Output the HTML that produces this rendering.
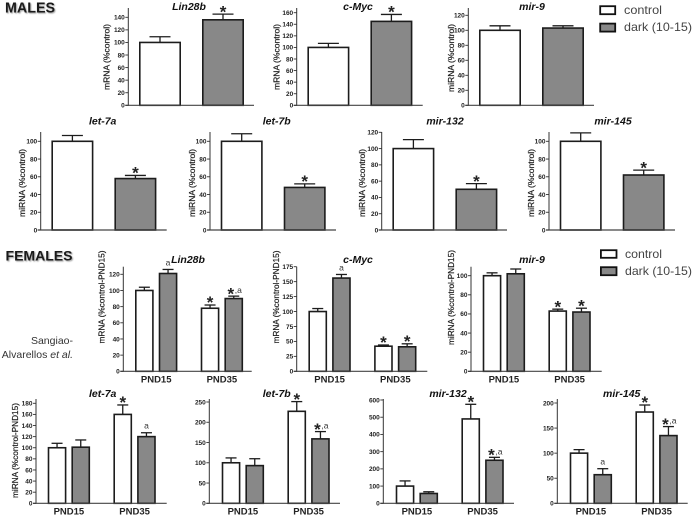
<!DOCTYPE html>
<html lang="en">
<head>
<meta charset="utf-8">
<title>mRNA and miRNA expression in males and females</title>
<style>
html,body{margin:0;padding:0;background:#fff;width:693px;height:516px;overflow:hidden}
svg{display:block;filter:blur(0.35px);font-family:"Liberation Sans",sans-serif}
.head{font-weight:700;fill:#1a1a1a;text-shadow:1px 1px 1.5px #999}
.title{font-weight:700;font-style:italic;font-size:10.5px;fill:#111;text-anchor:middle}
.tick{font-size:6.5px;font-weight:700;fill:#222;text-anchor:end}
.ylab{font-size:8px;fill:#222;text-anchor:middle;stroke:#222;stroke-width:.22px}
.grp{font-size:9.5px;font-weight:700;fill:#222;text-anchor:middle}
.star{font-size:17px;font-weight:700;fill:#222;text-anchor:middle}
.note{font-size:8.5px;fill:#333;text-anchor:middle}
.leg{font-size:12px;fill:#444}
.credit{font-size:10.5px;fill:#333;text-anchor:end}
</style>
</head>
<body>
<svg id="figure" width="693" height="516" viewBox="0 0 693 516" xmlns="http://www.w3.org/2000/svg">
  <rect width="693" height="516" fill="#fff"/>
  <text class="head" x="5" y="12.5" font-size="15" textLength="50" lengthAdjust="spacingAndGlyphs">MALES</text>
  <text class="head" x="5.5" y="260.5" font-size="13.5" textLength="67" lengthAdjust="spacingAndGlyphs">FEMALES</text>

  <g>
    <rect x="600.2" y="6.2" width="15" height="8" fill="#fff" stroke="#111" stroke-width="1.8"/>
    <text class="leg" x="624" y="13.8" textLength="38" lengthAdjust="spacingAndGlyphs">control</text>
    <rect x="600.2" y="23.6" width="15" height="8" fill="#888" stroke="#111" stroke-width="1.8"/>
    <text class="leg" x="624" y="31" textLength="68" lengthAdjust="spacingAndGlyphs">dark (10-15)</text>
  </g>
  <g>
    <rect x="600.9" y="250.2" width="15.6" height="7.6" fill="#fff" stroke="#111" stroke-width="1.8"/>
    <text class="leg" x="625" y="258" textLength="37" lengthAdjust="spacingAndGlyphs">control</text>
    <rect x="600.9" y="267.2" width="15.6" height="8" fill="#888" stroke="#111" stroke-width="1.8"/>
    <text class="leg" x="625" y="275" textLength="67" lengthAdjust="spacingAndGlyphs">dark (10-15)</text>
  </g>
  <text class="credit"><tspan x="73" y="344">Sangiao-</tspan><tspan x="73" y="358">Alvarellos <tspan font-style="italic">et al.</tspan></tspan></text>
</svg>
<script>
// ---------- shared labels ----------
const groupLabels = ['PND15', 'PND35'];
const ylabControl = 'mRNA (%control)';
const ylabMirControl = 'miRNA (%control)';
const ylabPnd = 'mRNA (%control-PND15)';
const ylabMirPnd = 'miRNA (%control-PND15)';

// ---------- tick labels ----------
const ticks140 = [0, 20, 40, 60, 80, 100, 120, 140];
const ticks160 = [0, 20, 40, 60, 80, 100, 120, 140, 160];
const ticks120 = [0, 20, 40, 60, 80, 100, 120];
const ticks100 = [0, 20, 40, 60, 80, 100];
const ticks175 = [0, 25, 50, 75, 100, 125, 150, 175];
const ticks180 = [0, 20, 40, 60, 80, 100, 120, 140, 160, 180];
const ticks250 = [0, 50, 100, 150, 200, 250];
const ticks600 = [0, 100, 200, 300, 400, 500, 600];
const ticks200 = [0, 50, 100, 150, 200];

// ---------- males: control, dark ----------
const mLin28bValues = [100, 136];
const mLin28bErrors = [9, 9];
const mLin28bNotes = ['', '*'];
const mMycValues = [100, 145];
const mMycErrors = [7, 12];
const mMycNotes = ['', '*'];
const mMir9Values = [100, 103];
const mMir9Errors = [6, 3];
const mMir9Notes = ['', ''];
const mLet7aValues = [100, 58];
const mLet7aErrors = [6.5, 3.5];
const mLet7aNotes = ['', '*'];
const mLet7bValues = [100, 48];
const mLet7bErrors = [8.5, 4];
const mLet7bNotes = ['', '*'];
const mMir132Values = [100, 50];
const mMir132Errors = [11, 7];
const mMir132Notes = ['', '*'];
const mMir145Values = [100, 62];
const mMir145Errors = [9.5, 5.5];
const mMir145Notes = ['', '*'];

// ---------- females: control-PND15, dark-PND15, control-PND35, dark-PND35 ----------
const fLin28bValues = [100, 121, 78, 90];
const fLin28bErrors = [4, 5, 4, 3];
const fLin28bNotes = ['', 'a', '*', '*,a'];
const fMycValues = [100, 156, 42, 41];
const fMycErrors = [5, 6, 2, 5];
const fMycNotes = ['', 'a', '*', '*'];
const fMir9Values = [100, 102, 63, 62];
const fMir9Errors = [3, 5, 2, 4];
const fMir9Notes = ['', '', '*', '*'];
const fLet7aValues = [100, 101, 160, 120];
const fLet7aErrors = [8, 13, 17, 7];
const fLet7aNotes = ['', '', '*', 'a'];
const fLet7bValues = [100, 93, 227, 159];
const fLet7bErrors = [12, 17, 24, 18];
const fLet7bNotes = ['', '', '*', '*,a'];
const fMir132Values = [100, 57, 490, 250];
const fMir132Errors = [30, 10, 85, 17];
const fMir132Notes = ['', '', '*', '*,a'];
const fMir145Values = [100, 57, 182, 135];
const fMir145Errors = [7, 12, 14, 18];
const fMir145Notes = ['', 'a', '*', '*,a'];

const NS = 'http://www.w3.org/2000/svg';
const figure = document.getElementById('figure');

function make(tag, parent, attrs, text) {
  const el = document.createElementNS(NS, tag);
  for (const k in attrs) el.setAttribute(k, attrs[k]);
  if (text !== undefined) el.textContent = text;
  parent.appendChild(el);
  return el;
}

function drawPanel(d, L) {
  const g = make('g', figure, {});
  
  

  // axis functions
  const topTick = d.ticks[d.ticks.length - 1];
  const yScale = v => L.base - v * (L.base - L.topTickY) / topTick;
  const band = i => L.grouped
    ? L.axis + L.first + Math.floor(i / 2) * L.step + (i % 2) * (L.width + L.gap)
    : L.axis + L.first + i * L.step;

  // bars and error bars
  d.values.forEach((v, i) => {
    const isDark = i % 2 === 1;
    const left = band(i);
    const cx = left + L.width / 2;
    const y = yScale(v);
    const capY = yScale(v + d.errors[i]);

    const stem = make('line', g, {x1: cx, x2: cx, y1: y, y2: capY, stroke: '#1c1c1c', 'stroke-width': 1.3});
    
    

    const cap = make('line', g, {x1: cx - L.cap / 2, x2: cx + L.cap / 2, y1: capY, y2: capY, stroke: '#1c1c1c', 'stroke-width': 1.3});
    
    

    const bar = make('rect', g, {
      x: left + 0.8, y: y, width: L.width - 1.6, height: L.base - y,
      fill: isDark ? '#888' : '#fff', stroke: '#1c1c1c', 'stroke-width': 1.6
    });
    
    

    const note = d.notes[i];
    if (note.includes('*')) {
      const starX = note.length > 1 ? cx - 3 : cx;
      const star = make('text', g, {class: 'star', x: starX, y: capY + 3.2}, '*');
      
      
    }
    if (note.includes('a')) {
      const tagX = note.length > 1 ? cx + 4.5 : cx;
      const tagY = note.length > 1 ? capY - 3 : capY - 4;
      const tag = make('text', g, {class: 'note', x: tagX, y: tagY}, note.length > 1 ? ',a' : 'a');
      
      
    }
  });

  // axes
  const yAxis = make('line', g, {x1: L.axis, x2: L.axis, y1: L.axisTop, y2: L.base + 0.5, stroke: '#333', 'stroke-width': 1});
  
  

  const xAxis = make('line', g, {x1: L.axis - 3, x2: L.axisEnd, y1: L.base, y2: L.base, stroke: '#444', 'stroke-width': 1.2});
  
  

  d.ticks.forEach(t => {
    const y = yScale(t);
    const mark = make('line', g, {x1: L.axis - 3, x2: L.axis, y1: y, y2: y, stroke: '#333', 'stroke-width': 0.9});
    
    

    const label = make('text', g, {class: 'tick', x: L.axis - 3.5, y: y + 2.3}, t);
    
    
  });

  // group labels
  if (L.grouped) {
    groupLabels.forEach((lab, i) => {
      const cx = L.axis + L.first + i * L.step + L.width + L.gap / 2;
      const label = make('text', g, {class: 'grp', x: cx, y: L.base + L.groupDy}, lab);
      
      
    });
  }

  // titles
  const title = make('text', g, {class: 'title', x: L.titleX, y: L.titleY}, d.title);
  
  

  if (d.ylabel) {
    const yl = make('text', g, {
      class: 'ylab', x: 0, y: 0,
      transform: 'translate(' + (L.ylabX + 2.8) + ' ' + L.ylabY + ') rotate(-90)',
      textLength: L.ylabLen, lengthAdjust: 'spacingAndGlyphs'
    }, d.ylabel);
    
    
  }
}

const male = {first: 10.7, step: 63, width: 42, cap: 21, grouped: false};
const fem = {first: 11.7, step: 65.7, width: 18.7, gap: 5, cap: 11, grouped: true, groupDy: 11.4};

// males, row 1
drawPanel({name: 'male-lin28b', title: 'Lin28b', ticks: ticks140, values: mLin28bValues, errors: mLin28bErrors, notes: mLin28bNotes, ylabel: ylabControl},
  {...male, axis: 128.3, base: 105.3, topTickY: 17.3, axisTop: 8, axisEnd: 254, titleX: 189, titleY: 10, ylabX: 106.7, ylabY: 57, ylabLen: 66});
drawPanel({name: 'male-c-myc', title: 'c-Myc', ticks: ticks160, values: mMycValues, errors: mMycErrors, notes: mMycNotes, ylabel: ylabControl},
  {...male, axis: 296.7, base: 105.3, topTickY: 12.7, axisTop: 8, axisEnd: 422.7, titleX: 358, titleY: 10, ylabX: 276.7, ylabY: 57, ylabLen: 66});
drawPanel({name: 'male-mir-9', title: 'mir-9', ticks: ticks120, values: mMir9Values, errors: mMir9Errors, notes: mMir9Notes, ylabel: ylabMirControl},
  {...male, axis: 468.3, base: 105.3, topTickY: 15.3, axisTop: 8, axisEnd: 594, titleX: 532, titleY: 10, ylabX: 451, ylabY: 58, ylabLen: 68});

// males, row 2
drawPanel({name: 'male-let-7a', title: 'let-7a', ticks: ticks100, values: mLet7aValues, errors: mLet7aErrors, notes: mLet7aNotes, ylabel: ylabMirControl},
  {...male, axis: 40.7, base: 230, topTickY: 141.3, axisTop: 132, axisEnd: 166.7, titleX: 102.7, titleY: 124.7, ylabX: 22, ylabY: 183, ylabLen: 68});
drawPanel({name: 'male-let-7b', title: 'let-7b', ticks: ticks100, values: mLet7bValues, errors: mLet7bErrors, notes: mLet7bNotes, ylabel: ylabMirControl},
  {...male, axis: 210, base: 230, topTickY: 141.3, axisTop: 132, axisEnd: 336, titleX: 276.7, titleY: 124.7, ylabX: 192, ylabY: 183, ylabLen: 68});
drawPanel({name: 'male-mir-132', title: 'mir-132', ticks: ticks120, values: mMir132Values, errors: mMir132Errors, notes: mMir132Notes, ylabel: ylabMirControl},
  {...male, axis: 381.7, base: 230, topTickY: 132.3, axisTop: 132, axisEnd: 507, titleX: 445, titleY: 124.7, ylabX: 362, ylabY: 183, ylabLen: 68});
drawPanel({name: 'male-mir-145', title: 'mir-145', ticks: ticks100, values: mMir145Values, errors: mMir145Errors, notes: mMir145Notes, ylabel: ylabMirControl},
  {...male, axis: 549, base: 230, topTickY: 141.3, axisTop: 132, axisEnd: 675, titleX: 613, titleY: 124.7, ylabX: 531, ylabY: 183, ylabLen: 68});

// females, row 1
drawPanel({name: 'female-lin28b', title: 'Lin28b', ticks: ticks120, values: fLin28bValues, errors: fLin28bErrors, notes: fLin28bNotes, ylabel: ylabPnd},
  {...fem, axis: 123.3, base: 371.3, topTickY: 274.3, axisTop: 266.7, axisEnd: 251.7, titleX: 188, titleY: 263, ylabX: 101.7, ylabY: 297, ylabLen: 93});
drawPanel({name: 'female-c-myc', title: 'c-Myc', ticks: ticks175, values: fMycValues, errors: fMycErrors, notes: fMycNotes, ylabel: ylabPnd},
  {...fem, axis: 296.7, base: 371.3, topTickY: 266.7, axisTop: 266.7, axisEnd: 427.3, titleX: 358, titleY: 263, ylabX: 276, ylabY: 297, ylabLen: 93});
drawPanel({name: 'female-mir-9', title: 'mir-9', ticks: ticks100, values: fMir9Values, errors: fMir9Errors, notes: fMir9Notes, ylabel: ylabMirPnd},
  {...fem, axis: 471, base: 371.3, topTickY: 275.7, axisTop: 266.7, axisEnd: 601.7, titleX: 532, titleY: 263, ylabX: 451, ylabY: 297.5, ylabLen: 95});

// females, row 2
drawPanel({name: 'female-let-7a', title: 'let-7a', ticks: ticks180, values: fLet7aValues, errors: fLet7aErrors, notes: fLet7aNotes, ylabel: ylabMirPnd},
  {...fem, axis: 36, base: 503.3, topTickY: 403.3, axisTop: 399, axisEnd: 166.7, titleX: 102.7, titleY: 397, ylabX: 15, ylabY: 450.5, ylabLen: 95});
drawPanel({name: 'female-let-7b', title: 'let-7b', ticks: ticks250, values: fLet7bValues, errors: fLet7bErrors, notes: fLet7bNotes},
  {...fem, axis: 209.3, base: 503.3, topTickY: 402, axisTop: 399, axisEnd: 340, first: 12.4, titleX: 276.7, titleY: 397});
drawPanel({name: 'female-mir-132', title: 'mir-132', ticks: ticks600, values: fMir132Values, errors: fMir132Errors, notes: fMir132Notes},
  {...fem, axis: 383.3, base: 503.3, topTickY: 400, axisTop: 399, axisEnd: 514, first: 12.4, titleX: 448, titleY: 397});
drawPanel({name: 'female-mir-145', title: 'mir-145', ticks: ticks200, values: fMir145Values, errors: fMir145Errors, notes: fMir145Notes},
  {...fem, axis: 557.3, base: 503.3, topTickY: 403, axisTop: 399, axisEnd: 687.7, first: 12.4, titleX: 621.7, titleY: 397});
</script>
</body>
</html>
